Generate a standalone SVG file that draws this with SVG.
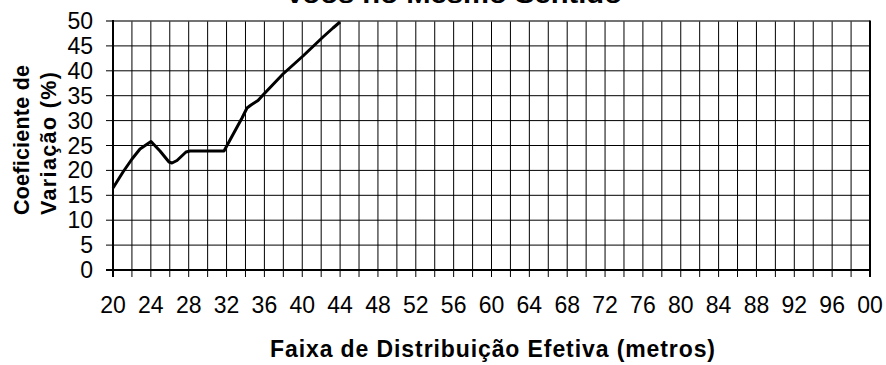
<svg xmlns="http://www.w3.org/2000/svg" width="886" height="365" viewBox="0 0 886 365">
<style>
.t{font-family:"Liberation Sans",Arial,sans-serif;fill:#000}
.num{font-size:23px}
.xl{text-anchor:middle}
.yl{text-anchor:end}
.b{font-weight:bold}
.grid{stroke:#000;stroke-width:1;fill:none}
</style>
<rect width="886" height="365" fill="#fff"/>
<text id="title" class="t b" x="285" y="3" font-size="26" textLength="337" lengthAdjust="spacingAndGlyphs">Voos no Mesmo Sentido</text>
<g id="grid" class="grid">
<path d="M106 45.9H870M106 70.8H870M106 95.7H870M106 120.6H870M106 145.5H870M106 170.4H870M106 195.3H870M106 220.2H870M106 245.1H870"/>
<path d="M131.93 21V277M150.85 21V277M169.78 21V277M188.7 21V277M207.63 21V277M226.55 21V277M245.48 21V277M264.4 21V277M283.33 21V277M302.25 21V277M321.18 21V277M340.1 21V277M359.03 21V277M377.95 21V277M396.88 21V277M415.8 21V277M434.73 21V277M453.65 21V277M472.58 21V277M491.5 21V277M510.43 21V277M529.35 21V277M548.28 21V277M567.2 21V277M586.13 21V277M605.05 21V277M623.98 21V277M642.9 21V277M661.83 21V277M680.75 21V277M699.68 21V277M718.6 21V277M737.53 21V277M756.45 21V277M775.38 21V277M794.3 21V277M813.23 21V277M832.15 21V277M851.08 21V277"/>
<path d="M106 21H870" stroke="#444" stroke-width="1.5"/>
<path d="M870 20.5V277" stroke-width="2"/>
<path d="M113 20V277M106 270H871" stroke-width="2"/>
</g>
<g id="y-labels" class="t num yl">
<text x="93" y="29">50</text><text x="93" y="53.9">45</text><text x="93" y="78.8">40</text><text x="93" y="103.7">35</text><text x="93" y="128.6">30</text><text x="93" y="153.5">25</text><text x="93" y="178.4">20</text><text x="93" y="203.3">15</text><text x="93" y="228.2">10</text><text x="93" y="253.1">5</text><text x="93" y="278">0</text>
</g>
<g id="x-labels" class="t num xl">
<text x="113" y="313">20</text><text x="150.85" y="313">24</text><text x="188.7" y="313">28</text><text x="226.55" y="313">32</text><text x="264.4" y="313">36</text><text x="302.25" y="313">40</text><text x="340.1" y="313">44</text><text x="377.95" y="313">48</text><text x="415.8" y="313">52</text><text x="453.65" y="313">56</text><text x="491.5" y="313">60</text><text x="529.35" y="313">64</text><text x="567.2" y="313">68</text><text x="605.05" y="313">72</text><text x="642.9" y="313">76</text><text x="680.75" y="313">80</text><text x="718.6" y="313">84</text><text x="756.45" y="313">88</text><text x="794.3" y="313">92</text><text x="832.15" y="313">96</text><text x="870" y="313">00</text>
</g>
<g id="series">
<polyline fill="none" stroke="#000" stroke-width="3" stroke-linejoin="round" points="113,188 123,172 132,159 140,149 151,141.5 160,151 169,162 172,163 177,160.5 186,152 190,151 224,151 230,140 236,129 242,118 247,108 251,105 258,100.5 263,95 283,74 303,56 323,37 333,28 340,22"/>
</g>
<text id="x-title" class="t b" x="270" y="357" font-size="23" textLength="445" lengthAdjust="spacing">Faixa de Distribuição Efetiva (metros)</text>
<g id="y-title" class="t b" font-size="21.5">
<text transform="translate(28.5,215) rotate(-90)" textLength="150" lengthAdjust="spacing">Coeficiente de</text>
<text transform="translate(56,215) rotate(-90)" textLength="143" lengthAdjust="spacing">Variação (%)</text>
</g>
</svg>
